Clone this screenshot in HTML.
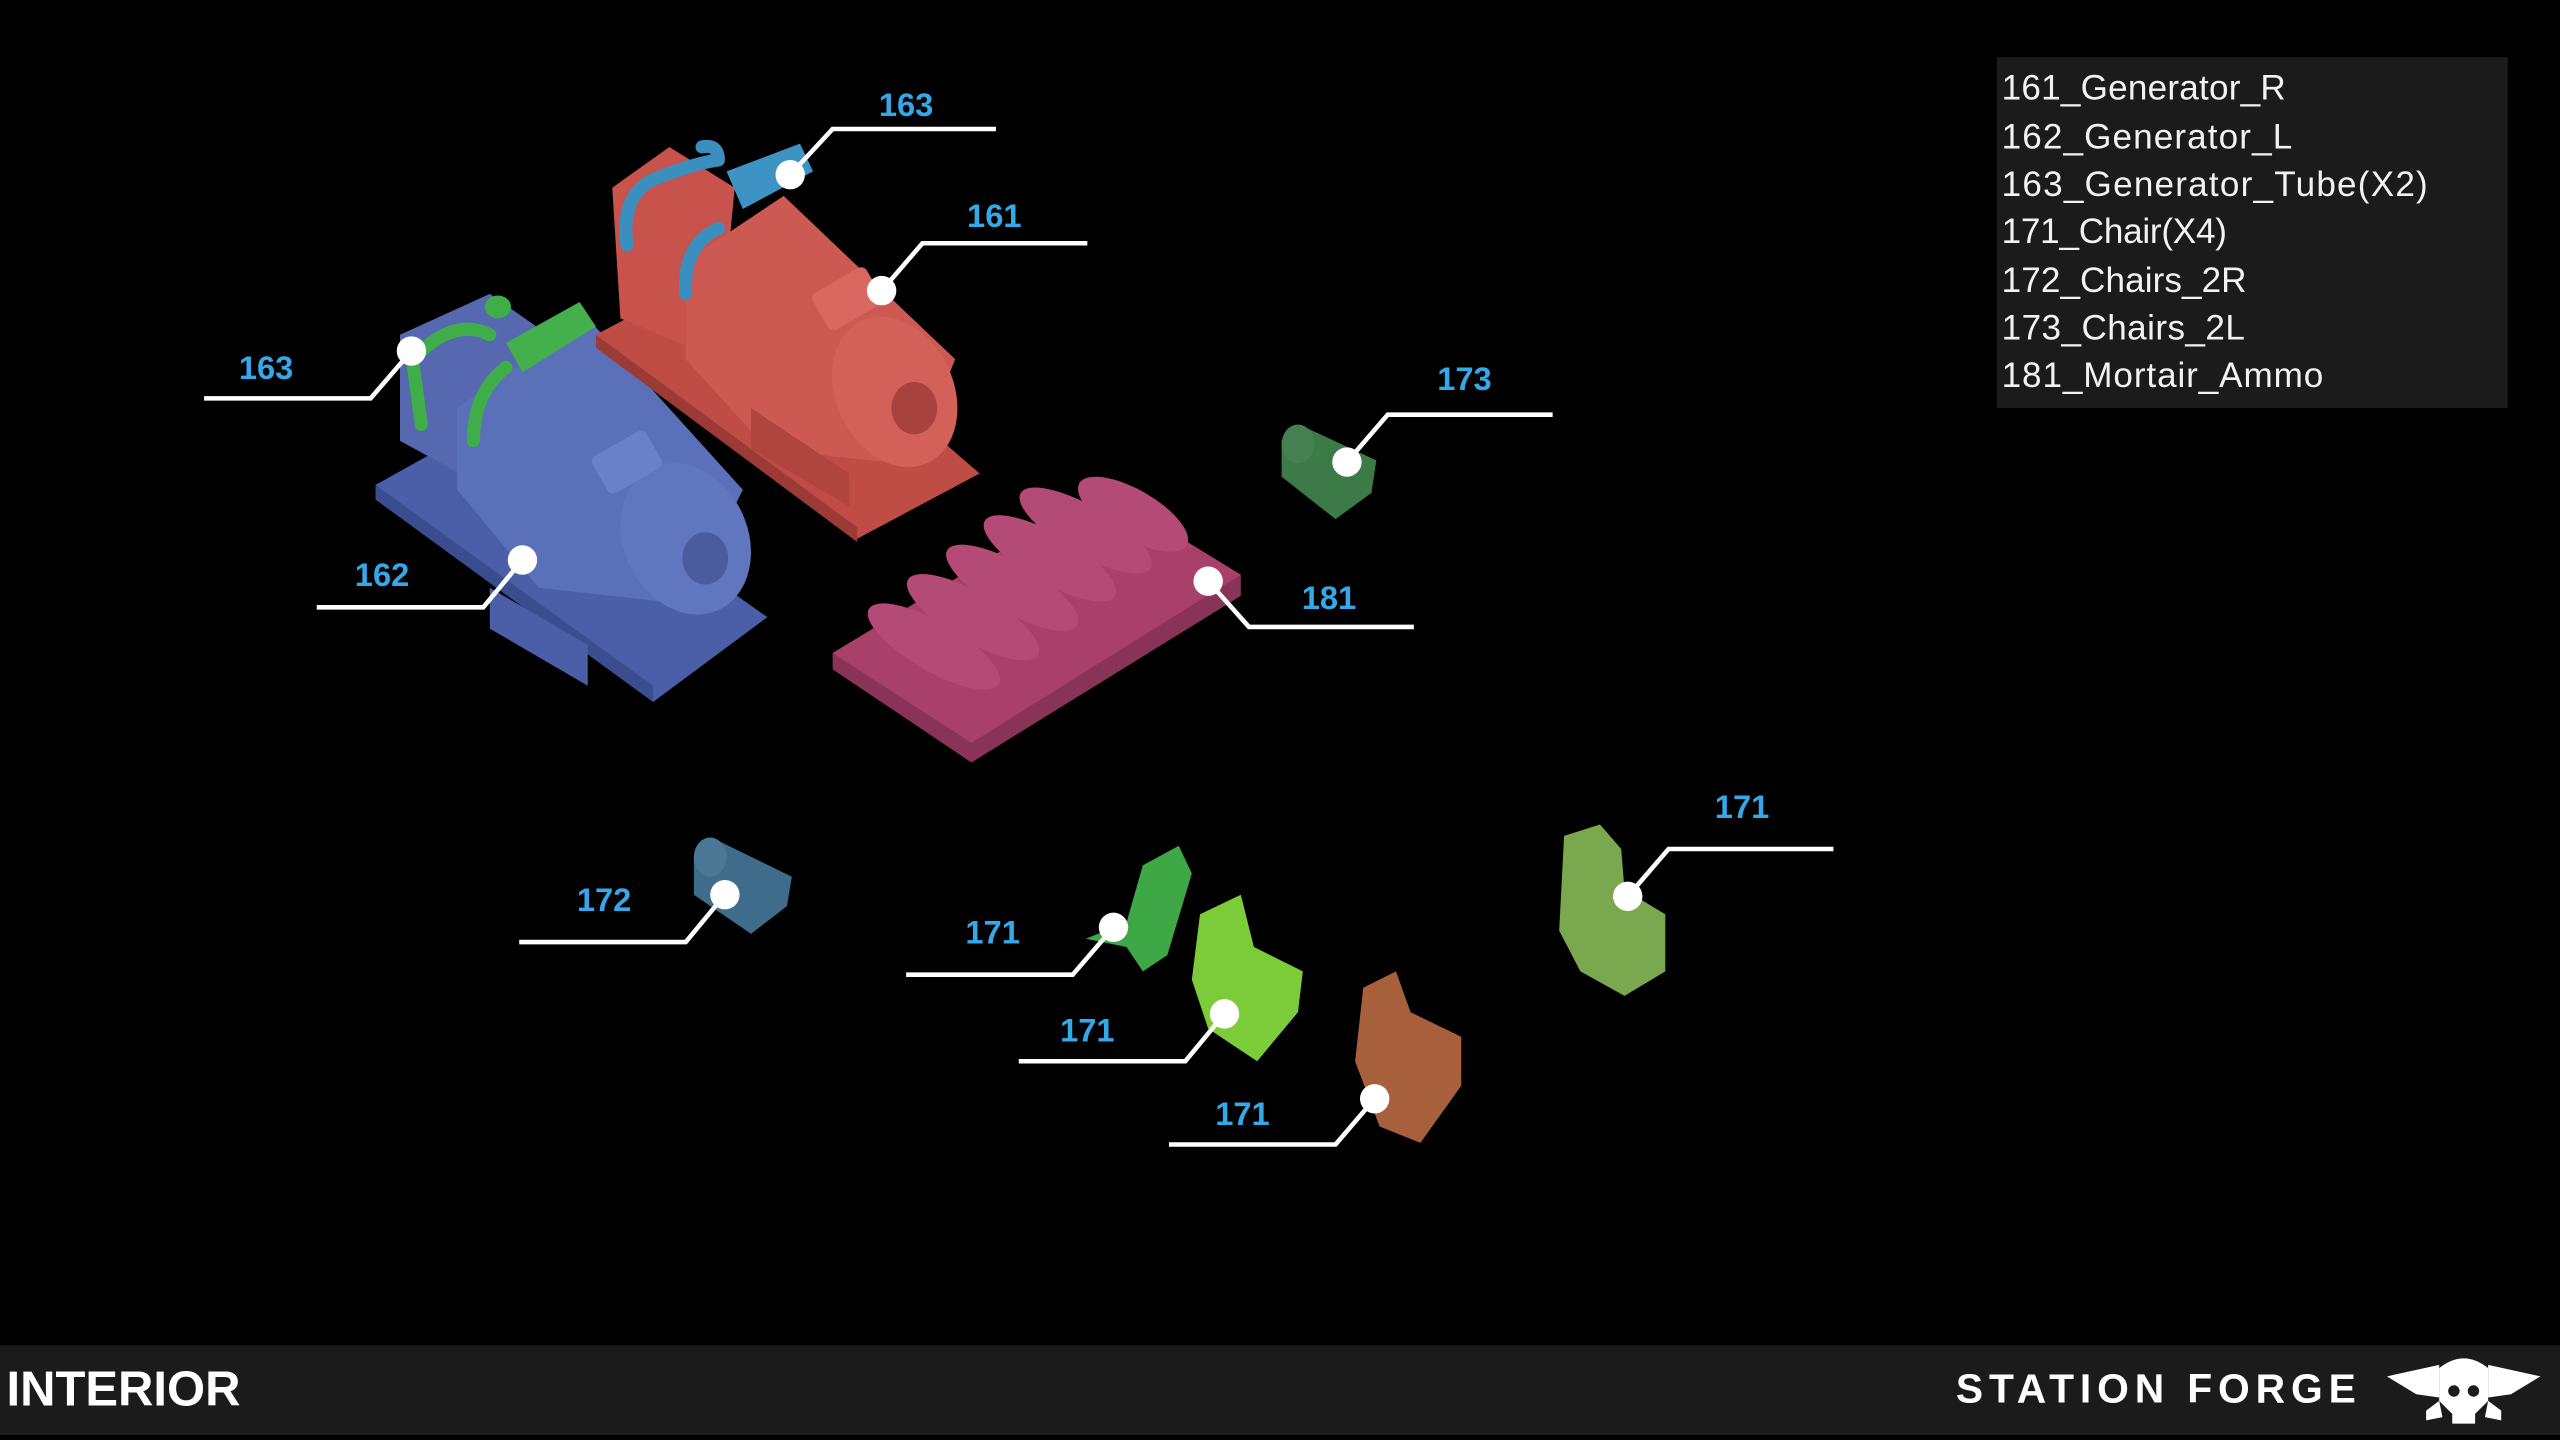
<!DOCTYPE html>
<html><head><meta charset="utf-8"><style>
html,body{margin:0;padding:0;background:#000;width:2560px;height:1440px;overflow:hidden}
svg{display:block}
</style></head><body>
<svg width="2560" height="1440" viewBox="0 0 1568 882" xmlns="http://www.w3.org/2000/svg" font-family="Liberation Sans, sans-serif">
<rect width="1568" height="882" fill="#000"/>

<!-- Blue generator 162 -->
<polygon points="230,297 300,258 470,378 400,430" fill="#4a5fa8"/>
<polygon points="230,297 400,420 400,430 230,306" fill="#3a4d8e"/>
<polygon points="245,205 300,180 350,215 300,300 245,270" fill="#5568b0"/>
<polygon points="280,250 360,195 455,300 420,370 330,360 280,300" fill="#5a70b8"/>
<ellipse cx="420" cy="330" rx="38" ry="48" transform="rotate(-25 420 330)" fill="#6077c0"/>
<ellipse cx="432" cy="342" rx="14" ry="16" fill="#4a5c9e"/>
<rect x="365" y="270" width="38" height="26" rx="4" fill="#6a80c8" transform="rotate(-30 384 283)"/>
<polygon points="300,360 360,395 360,420 300,385" fill="#4a5fa8"/>
<path d="M252,215 Q256,245 258,260 M290,270 Q290,240 310,225 M258,215 Q280,195 300,205" stroke="#3fae48" stroke-width="8" fill="none" stroke-linecap="round"/>
<polygon points="310,210 355,185 365,200 320,228" fill="#44b04c"/>
<ellipse cx="305" cy="188" rx="8" ry="7" fill="#3fae48"/>

<!-- Red generator 161 -->
<polygon points="365,205 450,160 600,290 525,330" fill="#c04c46"/>
<polygon points="365,205 525,323 525,332 365,213" fill="#9c3a36"/>
<polygon points="375,115 410,90 450,115 440,220 380,195" fill="#c8524c"/>
<polygon points="420,160 480,120 585,220 560,285 470,275 420,220" fill="#cd5a52"/>
<ellipse cx="548" cy="240" rx="36" ry="48" transform="rotate(-25 548 240)" fill="#d4605a"/>
<ellipse cx="560" cy="250" rx="14" ry="16" fill="#a8423e"/>
<rect x="500" y="170" width="38" height="26" rx="4" fill="#d86860" transform="rotate(-30 519 183)"/>
<polygon points="460,250 520,290 520,310 460,275" fill="#b0443f"/>
<path d="M384,150 Q380,120 400,110 Q425,100 440,98 M420,180 Q418,150 440,140 M440,98 Q440,88 430,90" stroke="#3a8fbf" stroke-width="8" fill="none" stroke-linecap="round"/>
<polygon points="445,105 490,88 498,105 455,128" fill="#3d94c4"/>

<!-- Ammo tray 181 -->
<polygon points="510,400 675,300 760,352 760,365 595,467 510,410" fill="#8a3358"/>
<polygon points="510,400 675,300 760,352 595,455" fill="#a8406a"/>
<g fill="#b44a76">
<ellipse cx="572" cy="396" rx="46" ry="15" transform="rotate(30 572 396)"/>
<ellipse cx="596" cy="378" rx="46" ry="15" transform="rotate(30 596 378)"/>
<ellipse cx="620" cy="360" rx="46" ry="15" transform="rotate(30 620 360)"/>
<ellipse cx="643" cy="342" rx="46" ry="15" transform="rotate(30 643 342)"/>
<ellipse cx="665" cy="325" rx="46" ry="15" transform="rotate(30 665 325)"/>
<ellipse cx="694" cy="315" rx="38" ry="15" transform="rotate(30 694 315)"/>
</g>

<!-- Chair 173 -->
<polygon points="785,270 800,262 843,282 840,302 818,318 785,292" fill="#3c7a48"/>
<ellipse cx="795" cy="272" rx="10" ry="12" fill="#467f52"/>
<!-- Chair 172 -->
<polygon points="425,525 440,515 485,537 482,555 460,572 425,548" fill="#3e6c8a"/>
<ellipse cx="435" cy="525" rx="10" ry="12" fill="#4a7896"/>

<!-- Chairs 171 -->
<polygon points="700,530 722,518 730,535 715,585 700,595 690,580 665,575 690,565" fill="#3ea846"/>
<polygon points="735,560 760,548 768,580 798,595 795,620 770,650 740,630 730,600" fill="#7ccc3a"/>
<polygon points="835,605 855,595 864,620 895,635 895,665 870,700 845,690 830,650" fill="#a8603c"/>
<polygon points="958,512 980,505 993,520 995,545 1020,560 1020,595 995,610 968,595 955,570" fill="#7aa84e"/>

<!-- Connectors -->
<g stroke="#fff" stroke-width="2.8" fill="none">
<polyline points="484,107 510,79 610,79"/>
<polyline points="540,178 565,149 666,149"/>
<polyline points="125,244 227,244 252,215"/>
<polyline points="194,372 296,372 320,343"/>
<polyline points="825,283 850,254 951,254"/>
<polyline points="740,356 765,384 866,384"/>
<polyline points="318,577 420,577 444,548"/>
<polyline points="555,597 657,597 682,568"/>
<polyline points="624,650 726,650 750,621"/>
<polyline points="716,701 818,701 842,673"/>
<polyline points="997,549 1022,520 1123,520"/>
</g>
<g fill="#fff">
<circle cx="484" cy="107" r="9"/><circle cx="540" cy="178" r="9"/><circle cx="252" cy="215" r="9"/>
<circle cx="320" cy="343" r="9"/><circle cx="825" cy="283" r="9"/><circle cx="740" cy="356" r="9"/>
<circle cx="444" cy="548" r="9"/><circle cx="682" cy="568" r="9"/><circle cx="750" cy="621" r="9"/>
<circle cx="842" cy="673" r="9"/><circle cx="997" cy="549" r="9"/>
</g>
<g fill="#35a8ea" font-size="20" font-weight="bold" text-anchor="middle">
<text x="555" y="71">163</text>
<text x="609" y="139">161</text>
<text x="163" y="232">163</text>
<text x="234" y="359">162</text>
<text x="897" y="239">173</text>
<text x="814" y="373">181</text>
<text x="370" y="558">172</text>
<text x="608" y="578">171</text>
<text x="666" y="638">171</text>
<text x="761" y="689">171</text>
<text x="1067" y="501">171</text>
</g>

<!-- Legend -->
<rect x="1223" y="35" width="313" height="215" fill="#1b1b1b"/>
<g fill="#f2f2f2" font-size="21.5">
<text x="1226" y="61" textLength="174">161_Generator_R</text>
<text x="1226" y="91" textLength="178">162_Generator_L</text>
<text x="1226" y="120" textLength="261">163_Generator_Tube(X2)</text>
<text x="1226" y="149" textLength="138">171_Chair(X4)</text>
<text x="1226" y="179" textLength="150">172_Chairs_2R</text>
<text x="1226" y="208" textLength="149">173_Chairs_2L</text>
<text x="1226" y="237" textLength="197">181_Mortair_Ammo</text>
</g>

<!-- Footer -->
<rect x="0" y="824" width="1568" height="55" fill="#1b1b1b"/>
<text x="4" y="861" fill="#fff" font-size="30" font-weight="bold">INTERIOR</text>
<text x="1198" y="859" fill="#fff" font-size="25" font-weight="bold" letter-spacing="3.6">STATION FORGE</text>
<g fill="#fff">
<polygon points="1462,843 1494,836 1494,856 1480,854"/>
<polygon points="1556,843 1524,836 1524,856 1538,854"/>
<path d="M1494,838 Q1509,826 1524,838 L1524,858 L1516,866 L1516,872 L1502,872 L1502,866 L1494,858 Z"/>
<polygon points="1486,864 1494,858 1496,868 1486,870"/>
<polygon points="1532,864 1524,858 1522,868 1532,870"/>
</g>
<g fill="#1b1b1b"><circle cx="1503" cy="852" r="3.5"/><circle cx="1515" cy="852" r="3.5"/></g>
</svg>
</body></html>
